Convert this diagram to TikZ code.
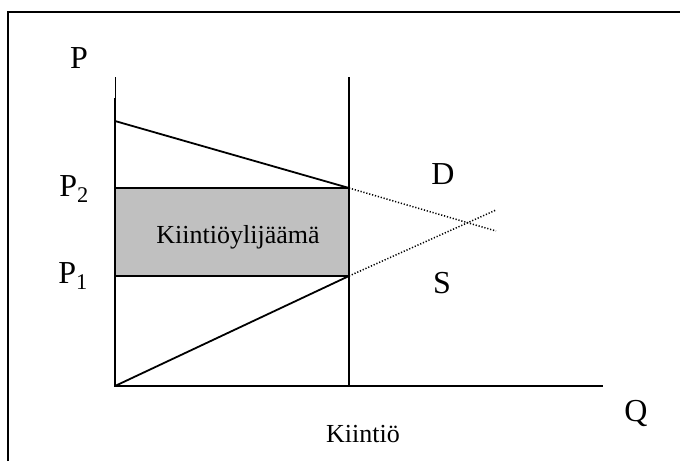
\documentclass[tikz,border=0pt]{standalone}
\usepackage{fontspec}
\setmainfont{Liberation Serif}
\usepackage{tikz}
\definecolor{kiintiogray}{RGB}{192, 192, 192}

\begin{document}
\begin{tikzpicture}[x=1pt, y=-1pt,
    iso/.style={font=\fontsize{32}{36}\selectfont},
    pieni/.style={font=\fontsize{26}{30}\selectfont},
    viiva/.style={line width=1.8pt},
    pisteet/.style={line width=1.5pt, dash pattern=on 1.2pt off 1.8pt}]
            \useasboundingbox (0,0) rectangle (680,461);
            % Kehys
            \draw[line width=2pt] (8,461) -- (8,12) -- (680,12);

            % Pisteet
            \coordinate (O) at (115,386); \coordinate (Xend) at (603,386);
            \coordinate (Ytop) at (115,77); \coordinate (Ythick) at (115,98);
            \coordinate (Ktop) at (349,77); \coordinate (Kbot) at (349,386);
            \coordinate (Dstart) at (115,121);
            \coordinate (P2a) at (115,188); \coordinate (P2b) at (349,188);
            \coordinate (P1a) at (115,276); \coordinate (P1b) at (349,276);
            \coordinate (Dend) at (496,231); \coordinate (Send) at (496,210);

            % Ylijäämä
            \draw[fill=kiintiogray, line width=1.2pt] (P2a) rectangle (P1b);
            \node[pieni] (yli) at (238,237) {Kiintiöylijäämä};

            % Akselit
            \draw[line width=0.6pt] (Ytop) -- (Ythick);
            \draw[viiva] (Ythick) -- (O) -- (Xend);
            \draw[viiva] (Ktop) -- (Kbot);

            % Kysyntä ja tarjonta
            \draw[viiva] (Dstart) -- (P2b);
            \draw[viiva] (O) -- (P1b);
            \draw[pisteet] (P2b) -- (Dend);
            \draw[pisteet] (P1b) -- (Send);

            % Tekstit
            \node[iso] (p) at (79,58) {P};
            \node[iso] (p2) at (74,189) {P\textsubscript{2}};
            \node[iso] (p1) at (73,276) {P\textsubscript{1}};
            \node[iso] (d) at (443,174) {D};
            \node[iso] (s) at (442,283) {S};
            \node[iso] (q) at (636,413) {Q};
            \node[pieni] (kiintio) at (363,434) {Kiintiö};
        \end{tikzpicture}
\end{document}
